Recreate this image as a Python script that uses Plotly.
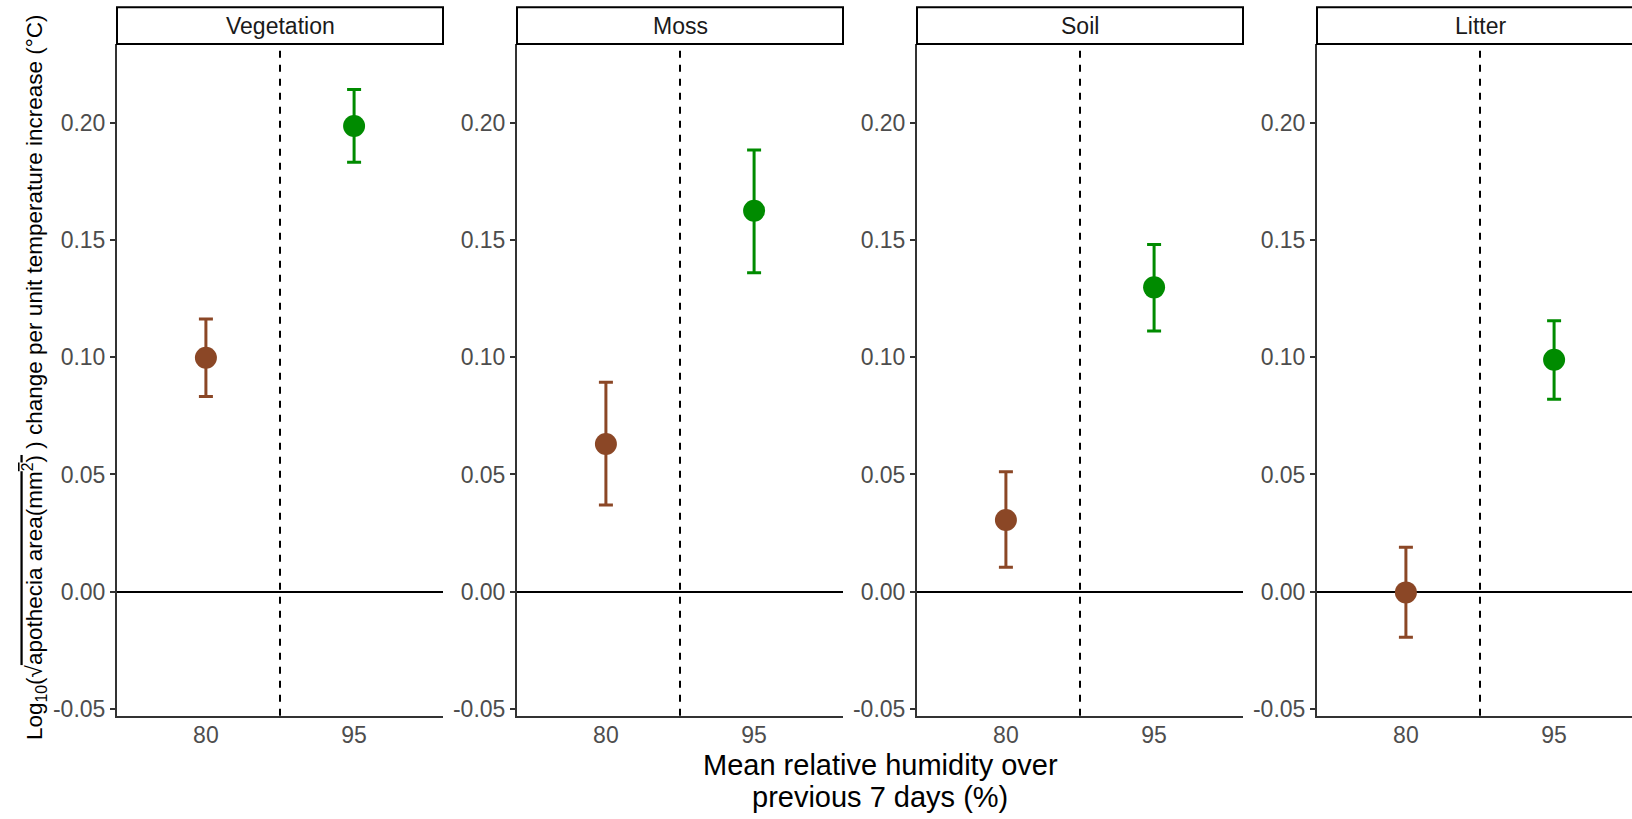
import plotly.graph_objects as go

# ---- data ----
habitats = ["Vegetation", "Moss", "Soil", "Litter"]
humidity = ["80", "95"]
mean_80 = [0.0998, 0.0630, 0.0306, -0.0003]
low_80 = [0.0832, 0.0370, 0.0104, -0.0194]
high_80 = [0.1163, 0.0893, 0.0512, 0.0190]
mean_95 = [0.1986, 0.1625, 0.1298, 0.0989]
low_95 = [0.1832, 0.1360, 0.1112, 0.0821]
high_95 = [0.2142, 0.1884, 0.1481, 0.1156]
level_colors = ["#8B4726", "#008B00"]
y_tick_vals = [-0.05, 0.0, 0.05, 0.10, 0.15, 0.20]
y_tick_text = ["-0.05", "0.00", "0.05", "0.10", "0.15", "0.20"]

# ---- layout constants ----
W, H = 1632, 819
FONT = "Liberation Sans, Arial, sans-serif"
panel_left0, panel_step, panel_w = 117, 400, 326
plot_top, plot_bottom = 44, 715.7
strip_top = 7.3
px_per_unit = panel_w / 2.2
y_range = [-0.0529, 0.2336]

fig = go.Figure()
layout_axes = {}
shapes = []
annotations = []

series = [(mean_80, low_80, high_80), (mean_95, low_95, high_95)]

for i, hab in enumerate(habitats):
    idx = "" if i == 0 else str(i + 1)
    xa, ya = "x" + idx, "y" + idx
    for j, (m, lo, hi) in enumerate(series):
        fig.add_trace(go.Scatter(
            x=[humidity[j]], y=[m[i]], xaxis=xa, yaxis=ya,
            mode="markers",
            marker=dict(color=level_colors[j], size=22, line=dict(width=0)),
            error_y=dict(type="data", symmetric=False,
                         array=[hi[i] - m[i]], arrayminus=[m[i] - lo[i]],
                         color=level_colors[j], thickness=3, width=7),
            showlegend=False, cliponaxis=False,
        ))
    left = panel_left0 + panel_step * i
    right = left + panel_w
    vis_right = min(right, W)
    layout_axes["xaxis" + idx] = dict(
        domain=[left / W, vis_right / W], anchor=ya, type="category",
        categoryorder="array", categoryarray=humidity,
        range=[-0.6, -0.6 + (vis_right - left) / px_per_unit],
        showline=True, linecolor="#333333", linewidth=2,
        ticks="", showgrid=False, zeroline=False,
        tickfont=dict(family=FONT, size=23, color="#4D4D4D"),
        ticklabelstandoff=-2, automargin=False, fixedrange=True,
    )
    layout_axes["yaxis" + idx] = dict(
        domain=[1 - plot_bottom / H, 1 - plot_top / H], anchor=xa,
        range=y_range, tickvals=y_tick_vals, ticktext=y_tick_text,
        showline=True, linecolor="#333333", linewidth=2,
        ticks="outside", ticklen=5, tickwidth=2, tickcolor="#333333",
        showgrid=False, zeroline=True, zerolinecolor="black", zerolinewidth=2,
        tickfont=dict(family=FONT, size=23, color="#4D4D4D"),
        automargin=False, fixedrange=True,
    )
    # dashed separator between humidity levels
    shapes.append(dict(type="line", xref=xa, yref=ya + " domain",
                       x0=0.5, x1=0.5, y0=0, y1=1, layer="below",
                       line=dict(color="black", width=2, dash="7px,7px")))
    # facet strip
    shapes.append(dict(type="rect", xref="paper", yref="paper",
                       x0=left / W, x1=right / W,
                       y0=1 - plot_top / H, y1=1 - strip_top / H,
                       line=dict(color="black", width=2), fillcolor="white"))
    annotations.append(dict(text=hab, xref="paper", yref="paper",
                            x=(left + panel_w / 2) / W,
                            y=1 - (strip_top + plot_top) / 2 / H,
                            xanchor="center", yanchor="middle", showarrow=False,
                            font=dict(family=FONT, size=23, color="#1A1A1A")))

# axis titles
ytitle = ("Log<sub>10</sub>(√<span style='text-decoration:overline'>apothecia area(mm<sup>2</sup>)</span> ) "
          "change per unit temperature increase (°C)")
annotations.append(dict(text=ytitle, xref="paper", yref="paper",
                        x=34 / W, y=1 - 378 / H, textangle=-90,
                        xanchor="center", yanchor="middle", showarrow=False,
                        font=dict(family=FONT, size=22.5, color="black")))
annotations.append(dict(text="Mean relative humidity over", xref="paper", yref="paper",
                        x=880 / W, y=1 - 765 / H, xanchor="center", yanchor="middle",
                        showarrow=False, font=dict(family=FONT, size=29, color="black")))
annotations.append(dict(text="previous 7 days (%)", xref="paper", yref="paper",
                        x=880 / W, y=1 - 797 / H, xanchor="center", yanchor="middle",
                        showarrow=False, font=dict(family=FONT, size=29, color="black")))

fig.update_layout(
    width=W, height=H, autosize=False,
    margin=dict(l=0, r=0, t=0, b=0),
    paper_bgcolor="white", plot_bgcolor="white",
    font=dict(family=FONT),
    shapes=shapes, annotations=annotations,
    **layout_axes,
)

fig.write_html("out.html", config={"displayModeBar": False})
